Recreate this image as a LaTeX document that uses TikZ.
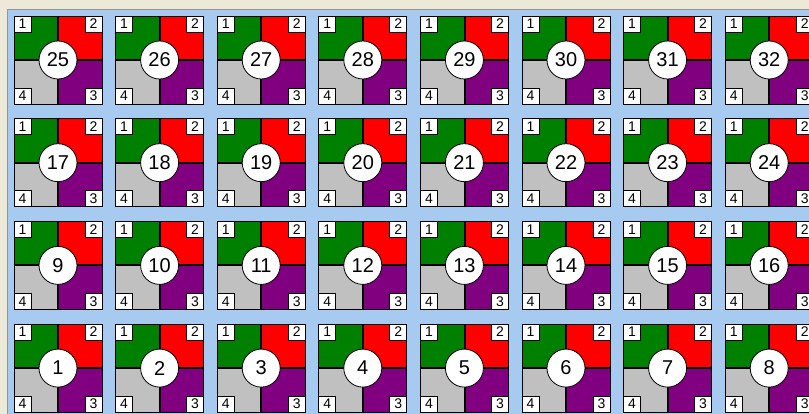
\documentclass[tikz,border=0pt]{standalone}
\usepackage{fontspec}
\setmainfont{Liberation Sans}
\definecolor{bgcream}{RGB}{236,233,216}
\definecolor{skyb}{RGB}{166,202,240}
\definecolor{framegray}{RGB}{150,150,140}
\definecolor{qgreen}{RGB}{0,128,0}
\definecolor{qred}{RGB}{255,0,0}
\definecolor{qpurple}{RGB}{128,0,128}
\definecolor{qsilver}{RGB}{192,192,192}
\tikzset{
  quad/.style={draw=black, line width=0.8},
  cornerbox/.style={draw=black, fill=white, line width=0.8, minimum width=17, minimum height=16, inner sep=0, font=\fontsize{14}{14}\selectfont},
  numdisc/.style={circle, draw=black, fill=white, line width=0.8, minimum size=38, inner sep=0, font=\fontsize{20}{20}\selectfont}
}
\begin{document}
\begin{tikzpicture}[x=1pt,y=-1pt]
\useasboundingbox (0,0) rectangle (809,414);
\fill[bgcream] (0,0) rectangle (809,414);
\fill[skyb] (7,10) rectangle (809,414);
\draw[framegray, line width=1] (7,414) -- (7,10) -- (809,10);
\clip (0,0) rectangle (809,414);
\foreach \c in {0,...,7}{
  \foreach \r in {0,...,3}{
    \pgfmathtruncatemacro{\num}{(3-\r)*8+\c+1}
    \pgfmathsetmacro{\xa}{14+\c*101.6}
    \pgfmathsetmacro{\ya}{16+\r*102.7}
    \begin{scope}[shift={(\xa,\ya)}]
      \fill[qgreen]  (0,0) rectangle (43.5,43.5);
      \fill[qred]    (44.5,0) rectangle (88,43.5);
      \fill[qpurple] (44.5,44.5) rectangle (88,88);
      \fill[qsilver] (0,44.5) rectangle (43.5,88);
      \draw[quad] (0,0) rectangle (43.5,43.5);
      \draw[quad] (44.5,0) rectangle (88,43.5);
      \draw[quad] (44.5,44.5) rectangle (88,88);
      \draw[quad] (0,44.5) rectangle (43.5,88);
      \node[cornerbox] (a\num) at (8.5,8) {1};
      \node[cornerbox] (b\num) at (79.5,8) {2};
      \node[cornerbox] (c\num) at (79.5,80) {3};
      \node[cornerbox] (d\num) at (8.5,80) {4};
      \node[numdisc] (n\num) at (44,44) {\num};
    \end{scope}
  }
}
\end{tikzpicture}
\end{document}
